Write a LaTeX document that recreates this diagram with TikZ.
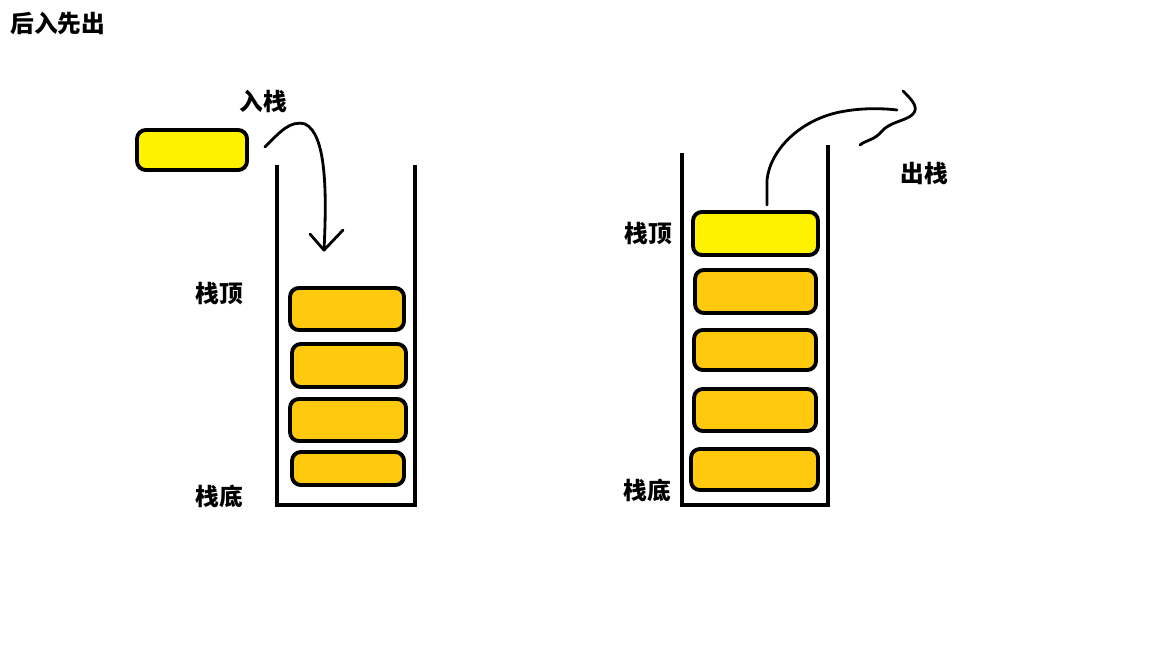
\documentclass[tikz,border=0pt]{standalone}
\usepackage{fontspec}
\newfontfamily\cjk{Noto Sans CJK SC}
\usetikzlibrary{positioning}
\definecolor{paintyellow}{HTML}{FFF200}
\definecolor{paintgold}{HTML}{FFC90E}

\begin{document}
\begin{tikzpicture}[x=0.02cm, y=-0.02cm,
    block/.style={draw=black, line width=2.2pt, rounded corners=5pt, inner sep=0pt},
    wall/.style={line width=2.8pt},
    hand/.style={line width=1.6pt, line cap=round, line join=round},
    lbl/.style={font=\cjk\bfseries\fontsize{13.5pt}{15pt}\selectfont, inner sep=0pt}]
    \useasboundingbox[fill=white] (0,0) rectangle (1152,648);

    \node[lbl] (title) at (58,24) {后入先出};

    % left stack: push
    \draw[wall] (277,165) -- (277,505) -- (415,505) -- (415,165);
    \node[block, fill=paintyellow, minimum width=2.2cm, minimum height=0.8cm] (newtop) at (192,150) {};
    \foreach \n/\cx/\cy/\w/\h in {s1/347/309/2.28/0.84, s2/349/365.5/2.28/0.86, s3/348/420/2.32/0.84, s4/348/468.5/2.24/0.66}
      { \node[block, fill=paintgold, minimum width=\w cm, minimum height=\h cm] (\n) at (\cx,\cy) {}; }

    \node[lbl] (pushlbl) at (263,101) {入栈};
    \node[lbl] (ltop) at (219,294) {栈顶};
    \node[lbl] (lbottom) at (219,496) {栈底};

    \coordinate (pushstart) at ([xshift=0.32cm, yshift=0.06cm]newtop.east);
    \coordinate (pushtip) at ([xshift=-0.46cm, yshift=0.72cm]s1.north);
    \draw[hand] (pushstart) .. controls (280,132) and (290,120) .. (305,124)
      .. controls (326,134) and (327,190) .. (pushtip);
    \draw[hand] ([xshift=-0.28cm, yshift=0.32cm]pushtip) -- (pushtip) -- ([xshift=0.38cm, yshift=0.4cm]pushtip);

    % right stack: pop
    \draw[wall] (682,153) -- (682,505) -- (828,505) -- (828,145);
    \node[block, fill=paintyellow, minimum width=2.5cm, minimum height=0.86cm] (r1) at (755.5,233.5) {};
    \foreach \n/\cx/\cy/\w/\h in {r2/755.5/291.5/2.42/0.86, r3/755/350/2.44/0.8, r4/755/410/2.44/0.84, r5/754.5/469.5/2.54/0.82}
      { \node[block, fill=paintgold, minimum width=\w cm, minimum height=\h cm] (\n) at (\cx,\cy) {}; }

    \node[lbl] (poplbl) at (924,174) {出栈};
    \node[lbl] (rtop) at (648,234) {栈顶};
    \node[lbl] (rbottom) at (647,490) {栈底};

    \coordinate (popstart) at ([xshift=0.23cm, yshift=0.1cm]r1.north);
    \coordinate (popend) at (897,110);
    \draw[hand] (popstart) -- (767,180) .. controls (770,150) and (800,120) .. (840,112)
      .. controls (860,108) and (880,108) .. (popend);
    \draw[hand] (903,91) .. controls (912,100) and (920,108) .. (912,115)
      .. controls (905,121) and (890,122) .. (882,131) .. controls (875,140) and (866,140) .. (860,145);
\end{tikzpicture}
\end{document}
